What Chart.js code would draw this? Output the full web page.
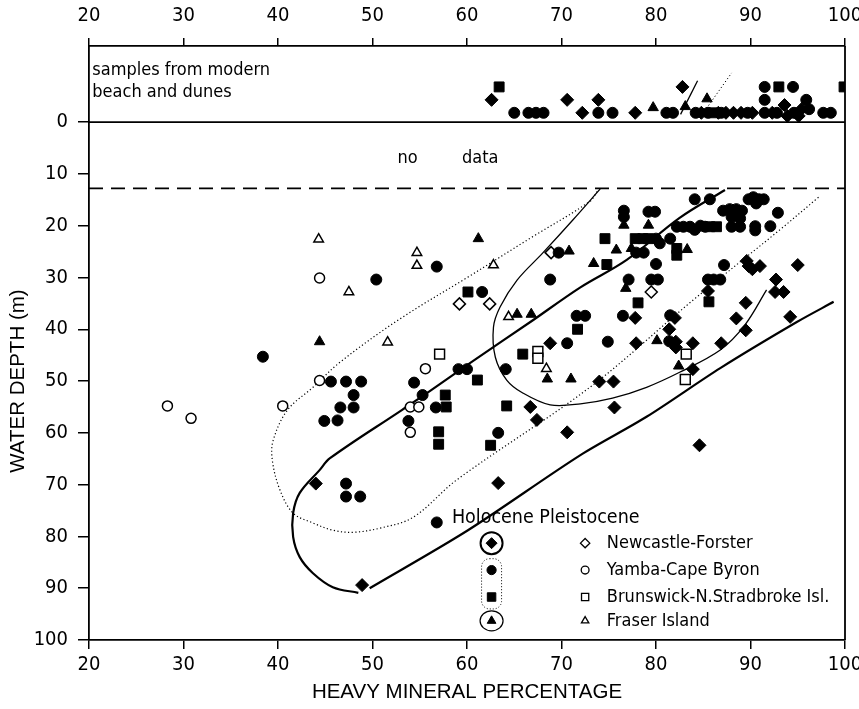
<!DOCTYPE html>
<html>
<head>
<meta charset="utf-8">
<script src="https://cdn.jsdelivr.net/npm/chart.js@4.4.1/dist/chart.umd.min.js"></script>
<style>
    html, body { margin: 0; padding: 0; background: #fff; }
    #contenedor { width: 859px; height: 709px; }
</style>
</head>
<body>
<div id="contenedor"><canvas id="grafico" width="859" height="709"></canvas></div>
<script>
// Datos: [porcentaje de minerales pesados, profundidad (m)]
// valores negativos = muestras de playa y dunas modernas (banda superior)
const xTicks = [20, 30, 40, 50, 60, 70, 80, 90, 100];
const yTicks = [0, 10, 20, 30, 40, 50, 60, 70, 80, 90, 100];

// Holoceno (símbolos rellenos)
const holoNewcastle = [
    [44.0, 69.8], [63.3, 69.7], [48.9, 89.4], [68.8, 42.7], [66.7, 55.0], [67.4, 57.5],
    [70.6, 59.9], [74.0, 50.1], [75.5, 50.1], [75.6, 55.1], [84.6, 62.4], [77.8, 37.8],
    [82.0, 37.8], [88.5, 37.9], [94.2, 37.6], [81.4, 40.0], [89.5, 40.2], [77.9, 42.7],
    [82.1, 42.4], [82.1, 43.5], [83.9, 42.7], [86.9, 42.7], [83.9, 47.7], [89.5, 34.9],
    [85.5, 32.6], [92.6, 32.8], [93.5, 32.8], [92.7, 30.4], [89.6, 26.8], [89.8, 27.8],
    [90.2, 28.4], [91.0, 27.8], [95.0, 27.6],
    [62.6, -4.3], [70.6, -4.3], [72.2, -1.8], [73.9, -4.3], [77.8, -1.8], [82.8, -6.8],
    [84.8, -1.8], [86.6, -1.8], [87.4, -1.8], [88.2, -1.8], [89.0, -1.8], [90.2, -1.8],
    [92.3, -1.8], [93.6, -3.3], [93.9, -1.2], [95.1, -1.2], [95.4, -2.5]
];
const holoYamba = [
    [38.4, 45.3], [50.4, 30.4], [56.8, 27.9], [61.6, 32.8], [69.7, 25.2], [68.8, 30.4],
    [71.6, 37.4], [72.5, 37.4], [84.1, 14.9], [85.7, 14.9], [89.8, 14.9], [90.3, 14.5],
    [90.9, 14.9], [91.4, 14.9], [90.6, 15.7], [76.6, 17.1], [76.6, 18.3], [79.2, 17.3],
    [79.9, 17.3], [87.1, 17.1], [87.8, 16.8], [88.5, 16.8], [89.1, 17.1], [88.0, 18.3],
    [88.9, 18.6], [92.9, 17.5], [82.2, 20.2], [82.9, 20.2], [83.6, 20.2], [84.1, 20.8],
    [84.7, 20.0], [85.2, 20.2], [88.0, 20.2], [88.9, 20.2], [90.5, 20.1], [90.5, 20.9],
    [92.1, 20.1], [80.0, 22.5], [80.4, 23.4], [81.5, 22.5], [77.9, 25.2], [78.7, 25.2],
    [80.0, 27.4], [87.2, 27.6], [77.1, 30.4], [79.5, 30.4], [80.2, 30.4], [85.5, 30.4],
    [86.1, 30.4], [86.8, 30.4], [76.5, 37.4], [81.5, 37.3], [74.9, 42.4], [81.4, 42.3],
    [70.6, 42.7], [64.1, 47.7], [59.1, 47.7], [60.0, 47.7], [63.3, 60.0], [45.6, 50.1],
    [47.2, 50.1], [48.8, 50.1], [54.4, 50.3], [48.0, 52.7], [55.3, 52.7], [46.6, 55.1],
    [48.0, 55.1], [56.7, 55.1], [44.9, 57.7], [46.3, 57.6], [53.8, 57.7], [47.2, 69.8],
    [47.2, 72.3], [48.7, 72.3], [56.8, 77.3],
    [65.0, -1.8], [66.5, -1.8], [67.3, -1.8], [68.1, -1.8], [73.9, -1.8], [75.4, -1.8],
    [81.1, -1.8], [81.8, -1.8], [84.2, -1.8], [85.5, -1.8], [86.9, -1.8], [89.7, -1.8],
    [91.5, -1.8], [92.8, -1.8], [94.6, -1.8], [96.2, -2.5], [97.7, -1.8], [98.5, -1.8],
    [91.5, -4.3], [95.9, -4.3], [91.5, -6.8], [94.5, -6.8]
];
const holoBrunswick = [
    [60.1, 32.8], [71.7, 40.0], [65.9, 44.8], [61.1, 49.8], [57.7, 52.7], [57.8, 55.0],
    [64.2, 54.8], [57.0, 59.8], [57.0, 62.2], [62.5, 62.4], [74.6, 22.5], [77.8, 22.5],
    [78.6, 22.5], [79.2, 22.5], [85.7, 20.2], [86.4, 20.2], [82.2, 24.4], [82.2, 25.7],
    [74.8, 27.5], [78.1, 34.9], [85.6, 34.7],
    [63.4, -6.8], [86.1, -1.8], [93.0, -6.8], [99.9, -6.8]
];
const holoFraser = [
    [61.2, 22.5], [65.3, 37.1], [66.8, 37.1], [70.8, 24.9], [76.6, 19.9], [79.2, 19.9],
    [75.8, 24.7], [77.4, 24.4], [83.3, 24.6], [73.4, 27.3], [76.8, 32.1], [80.1, 42.2],
    [82.4, 47.1], [68.5, 49.6], [71.0, 49.6], [44.4, 42.4],
    [79.7, -2.8], [83.1, -3.0], [85.4, -4.5]
];

// Pleistoceno (símbolos vacíos)
const pleiNewcastle = [[59.2, 35.1], [62.4, 35.1], [68.9, 25.2], [79.5, 32.8]];
const pleiYamba = [
    [44.4, 30.1], [44.4, 49.9], [28.3, 54.8], [30.8, 57.2], [40.5, 54.8], [55.6, 47.6],
    [54.0, 55.0], [54.9, 55.0], [54.0, 59.9]
];
const pleiBrunswick = [[57.1, 44.8], [67.5, 44.3], [67.5, 45.6], [83.2, 44.8], [83.1, 49.7]];
const pleiFraser = [
    [44.3, 22.6], [54.7, 25.2], [54.7, 27.7], [47.5, 32.8], [62.8, 27.6], [64.4, 37.6],
    [51.6, 42.5], [68.4, 47.6]
];

// Curvas que delimitan los campos holocenos
const limiteNewcastleA = [
    [87.3, 13.1], [82.5, 18.5], [76.9, 26.6], [72.0, 31.9], [66.7, 38.6], [60.5, 46.3],
    [56.1, 51.9], [53.1, 55.6], [45.5, 64.9], [44.4, 67.2], [42.3, 71.6], [41.6, 75.5],
    [41.6, 80.1], [42.3, 84.0], [43.7, 87.1], [45.8, 89.8], [48.5, 90.9]
];
const limiteNewcastleB = [
    [49.7, 90.0], [60.1, 78.8], [72.0, 64.3], [79.0, 56.9], [86.8, 47.5], [94.9, 38.6], [98.8, 34.7]
];
const limiteYambaBrunswick = [
    [97.2, 14.5], [93.1, 20.8], [83.9, 34.4], [73.0, 51.2], [58.9, 69.1], [54.3, 76.3],
    [50.8, 78.4], [47.9, 79.2], [45.8, 78.8], [43.7, 77.4], [41.6, 75.5], [40.2, 71.0],
    [39.4, 65.3], [39.5, 61.4], [41.0, 55.6], [43.7, 51.2], [46.6, 46.3], [52.9, 38.0],
    [60.3, 29.7], [66.7, 22.4], [73.0, 15.3], [73.8, 13.3]
];
const limiteFraser = [
    [74.1, 12.9], [71.2, 18.9], [68.0, 25.3], [65.3, 30.5], [63.5, 35.7], [62.8, 39.6],
    [63.0, 45.4], [64.2, 49.8], [65.9, 52.3], [68.8, 54.6], [72.0, 54.4], [75.4, 53.3],
    [79.0, 51.2], [82.5, 48.3], [86.8, 44.0], [89.4, 39.2], [91.7, 32.4]
];
const limiteModernoSolido = [[82.6, -1.5], [84.4, -8.0]];
const limiteModernoPunteado = [[84.9, -1.5], [88.0, -9.5]];
const nivelMar = [[20, 0], [100, 0]];
const limiteSinDatos = [[20, 12.8], [100, 12.8]];

const fuenteCond = '"DejaVu Sans Condensed", "Liberation Sans Narrow", "DejaVu Sans", sans-serif';
const fuenteTitulo = '"Liberation Sans", Arial, sans-serif';

const aPuntos = arr => arr.map(p => ({ x: p[0], y: p[1] }));

function serie(label, datos, estilo, relleno, radio) {
    return {
        label: label,
        data: aPuntos(datos),
        pointStyle: estilo,
        pointRadius: radio,
        pointHoverRadius: radio,
        pointBackgroundColor: relleno ? '#000' : '#fff',
        pointBorderColor: '#000',
        pointBorderWidth: relleno ? 1 : 1.5,
        showLine: false,
        order: 1
    };
}

function curva(label, datos, ancho, guiones, tension) {
    return {
        label: label,
        data: aPuntos(datos),
        showLine: true,
        pointRadius: 0,
        borderColor: '#000',
        borderWidth: ancho,
        borderDash: guiones,
        tension: tension,
        fill: false,
        order: 5
    };
}

// Dibuja un símbolo de la leyenda en coordenadas de píxel
function simbolo(ctx, estilo, x, y, r, relleno) {
    ctx.beginPath();
    if (estilo === 'circle') {
        ctx.arc(x, y, r, 0, Math.PI * 2);
    } else if (estilo === 'rectRot') {
        ctx.moveTo(x, y - r); ctx.lineTo(x + r, y); ctx.lineTo(x, y + r); ctx.lineTo(x - r, y);
        ctx.closePath();
    } else if (estilo === 'rect') {
        const s = r * Math.SQRT1_2;
        ctx.rect(x - s, y - s, 2 * s, 2 * s);
    } else if (estilo === 'triangle') {
        ctx.moveTo(x, y - r);
        ctx.lineTo(x + r * 0.87, y + r * 0.5);
        ctx.lineTo(x - r * 0.87, y + r * 0.5);
        ctx.closePath();
    }
    ctx.fillStyle = relleno ? '#000' : '#fff';
    ctx.fill();
    ctx.lineWidth = relleno ? 1 : 1.3;
    ctx.strokeStyle = '#000';
    ctx.stroke();
}

const anotaciones = {
    id: 'anotaciones',
    afterDatasetsDraw(chart) {
        const { ctx } = chart;
        const x = chart.scales.x;
        const y = chart.scales.y;
        const area = chart.chartArea;
        ctx.save();
        ctx.fillStyle = '#000';
        ctx.textBaseline = 'middle';

        // Borde derecho del marco
        ctx.strokeStyle = '#000';
        ctx.lineWidth = 1.8;
        ctx.beginPath();
        ctx.moveTo(area.right, area.top);
        ctx.lineTo(area.right, area.bottom);
        ctx.stroke();

        // Textos dentro del gráfico
        ctx.font = '18px ' + fuenteCond;
        ctx.textAlign = 'left';
        ctx.fillText('samples from modern', x.getPixelForValue(20.35), y.getPixelForValue(-10.0));
        ctx.fillText('beach and dunes', x.getPixelForValue(20.35), y.getPixelForValue(-5.8));
        ctx.textAlign = 'center';
        ctx.fillText('no', x.getPixelForValue(53.7), y.getPixelForValue(6.9));
        ctx.fillText('data', x.getPixelForValue(61.4), y.getPixelForValue(6.9));

        // Leyenda
        ctx.textAlign = 'left';
        ctx.font = '19.5px ' + fuenteCond;
        ctx.fillText('Holocene Pleistocene', x.getPixelForValue(58.4), y.getPixelForValue(76.4));

        const colH = x.getPixelForValue(62.6);
        const colP = x.getPixelForValue(72.5);
        const colT = x.getPixelForValue(74.8);
        const filas = [
            ['rectRot', 81.3, 'Newcastle-Forster', 5.5],
            ['circle', 86.5, 'Yamba-Cape Byron', 4.6],
            ['rect', 91.7, 'Brunswick-N.Stradbroke Isl.', 6],
            ['triangle', 96.3, 'Fraser Island', 5]
        ];
        ctx.font = '18px ' + fuenteCond;
        filas.forEach(f => {
            const py = y.getPixelForValue(f[1]);
            simbolo(ctx, f[0], colH, py, f[3], true);
            simbolo(ctx, f[0], colP, py, f[3] * 0.85, false);
            ctx.fillStyle = '#000';
            ctx.fillText(f[2], colT, py);
        });

        // Recuadros de la leyenda holocena
        ctx.strokeStyle = '#000';
        ctx.lineWidth = 2;
        ctx.beginPath();
        ctx.arc(colH, y.getPixelForValue(81.3), 11, 0, Math.PI * 2);
        ctx.stroke();
        ctx.lineWidth = 1.2;
        ctx.beginPath();
        ctx.ellipse(colH, y.getPixelForValue(96.3), 11.5, 10, 0, 0, Math.PI * 2);
        ctx.stroke();
        ctx.setLineDash([1, 2]);
        ctx.lineWidth = 1;
        const top = y.getPixelForValue(84.3);
        const bot = y.getPixelForValue(94.0);
        ctx.beginPath();
        ctx.roundRect(colH - 10, top, 20, bot - top, 8);
        ctx.stroke();
        ctx.setLineDash([]);

        // Título del eje Y, centrado en el tramo 0-100 m
        ctx.save();
        ctx.translate(18, y.getPixelForValue(50));
        ctx.rotate(-Math.PI / 2);
        ctx.textAlign = 'center';
        ctx.font = '20.5px ' + fuenteTitulo;
        ctx.fillText('WATER DEPTH (m)', 0, 0);
        ctx.restore();

        ctx.restore();
    }
};

const fuenteTicks = { family: fuenteCond, size: 20 };

// Quita el margen automático que Chart.js reserva para la etiqueta "100"
function sinMargenX(altura) {
    return s => {
        s.height = altura;
        s.paddingLeft = 0;
        s.paddingRight = 0;
    };
}

new Chart(document.getElementById('grafico').getContext('2d'), {
    type: 'scatter',
    data: {
        datasets: [
            serie('Holocene Newcastle-Forster', holoNewcastle, 'rectRot', true, 6.5),
            serie('Holocene Yamba-Cape Byron', holoYamba, 'circle', true, 5.5),
            serie('Holocene Brunswick-N.Stradbroke Isl.', holoBrunswick, 'rect', true, 7),
            serie('Holocene Fraser Island', holoFraser, 'triangle', true, 6),
            serie('Pleistocene Newcastle-Forster', pleiNewcastle, 'rectRot', false, 6),
            serie('Pleistocene Yamba-Cape Byron', pleiYamba, 'circle', false, 5),
            serie('Pleistocene Brunswick-N.Stradbroke Isl.', pleiBrunswick, 'rect', false, 7),
            serie('Pleistocene Fraser Island', pleiFraser, 'triangle', false, 5.5),
            curva('limite Newcastle A', limiteNewcastleA, 2.2, [], 0.35),
            curva('limite Newcastle B', limiteNewcastleB, 2.2, [], 0.3),
            curva('limite Yamba-Brunswick', limiteYambaBrunswick, 1.2, [1.2, 2.4], 0.35),
            curva('limite Fraser', limiteFraser, 1.3, [], 0.35),
            curva('moderno solido', limiteModernoSolido, 1.3, [], 0),
            curva('moderno punteado', limiteModernoPunteado, 1, [1.2, 2.4], 0),
            curva('nivel del mar', nivelMar, 1.6, [], 0),
            curva('sin datos', limiteSinDatos, 1.6, [14, 8], 0)
        ]
    },
    options: {
        responsive: false,
        animation: false,
        devicePixelRatio: 1,
        layout: { padding: { left: 0, top: 0, bottom: 0, right: 14 }, autoPadding: false },
        plugins: {
            legend: { display: false },
            tooltip: { enabled: false }
        },
        scales: {
            x: {
                type: 'linear',
                position: 'bottom',
                min: 20,
                max: 100,
                afterBuildTicks: s => { s.ticks = xTicks.map(v => ({ value: v })); },
                afterFit: sinMargenX(69),
                ticks: { color: '#000', font: fuenteTicks, padding: 4, maxRotation: 0 },
                grid: { drawOnChartArea: false, tickLength: 9, color: '#000', lineWidth: 1.5 },
                border: { color: '#000', width: 1.8 },
                title: {
                    display: true,
                    text: 'HEAVY MINERAL PERCENTAGE',
                    color: '#000',
                    font: { family: fuenteTitulo, size: 20.5 },
                    padding: { top: 0, bottom: 4 }
                }
            },
            xArriba: {
                type: 'linear',
                position: 'top',
                min: 20,
                max: 100,
                afterBuildTicks: s => { s.ticks = xTicks.map(v => ({ value: v })); },
                afterFit: sinMargenX(46),
                ticks: { color: '#000', font: fuenteTicks, padding: 10, maxRotation: 0 },
                grid: { drawOnChartArea: false, tickLength: 8, color: '#000', lineWidth: 1.5 },
                border: { color: '#000', width: 1.8 }
            },
            y: {
                type: 'linear',
                position: 'left',
                reverse: true,
                min: -14.7,
                max: 100,
                afterBuildTicks: s => { s.ticks = yTicks.map(v => ({ value: v })); },
                afterFit: s => { s.width = 89; },
                ticks: { color: '#000', font: fuenteTicks, padding: 10 },
                grid: { drawOnChartArea: false, tickLength: 11, color: '#000', lineWidth: 1.5 },
                border: { color: '#000', width: 1.8 }
            }
        }
    },
    plugins: [anotaciones]
});
</script>
</body>
</html>
